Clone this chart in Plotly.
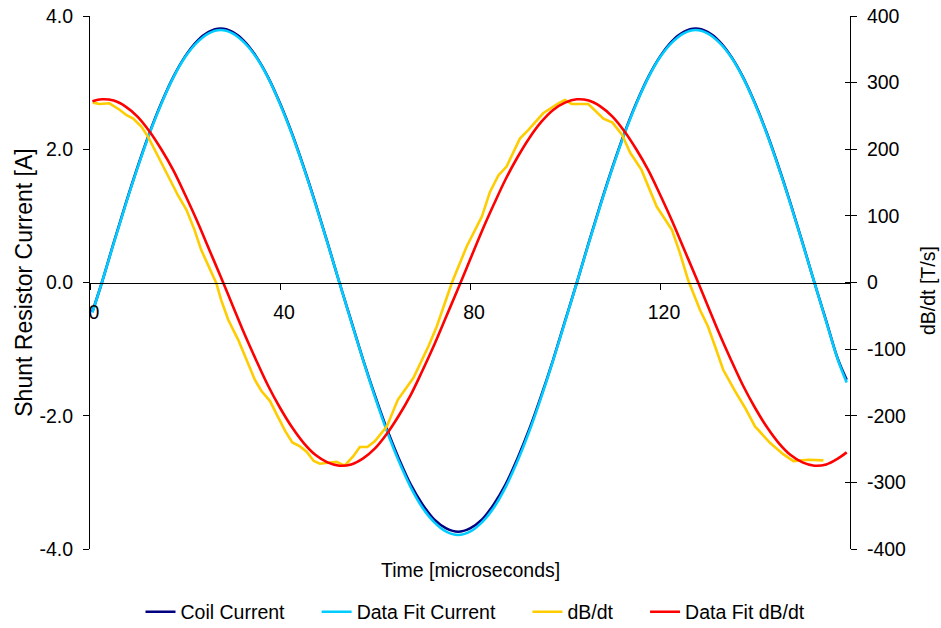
import plotly.graph_objects as go

# ---- data ----
t_grid = [0.5, 2.5, 5.0, 7.5, 10.0, 12.5, 15.0, 17.5, 20.0, 22.5, 25.0, 27.5, 30.0, 32.5,
          35.0, 37.5, 40.0, 42.5, 45.0, 47.5, 50.0, 52.5, 55.0, 57.5, 60.0, 62.5, 65.0,
          67.5, 70.0, 72.5, 75.0, 77.5, 80.0, 82.5, 85.0, 87.5, 90.0, 92.5, 95.0, 97.5,
          100.0, 102.5, 105.0, 107.5, 110.0, 112.5, 115.0, 117.5, 120.0, 122.5, 125.0,
          127.5, 130.0, 132.5, 135.0, 137.5, 140.0, 142.5, 145.0, 147.5, 150.0, 152.5,
          155.0, 157.5, 159.3]

coil_current = [-0.44, 0.00, 0.60, 1.18, 1.73, 2.24, 2.69, 3.08, 3.39, 3.62, 3.76, 3.81, 3.76,
                3.62, 3.39, 3.08, 2.69, 2.24, 1.73, 1.18, 0.60, 0.00, -0.58, -1.16, -1.70,
                -2.20, -2.64, -3.03, -3.33, -3.56, -3.69, -3.74, -3.69, -3.56, -3.33, -3.03,
                -2.64, -2.20, -1.70, -1.16, -0.58, 0.00, 0.60, 1.18, 1.73, 2.24, 2.69, 3.08,
                3.39, 3.62, 3.76, 3.81, 3.76, 3.62, 3.39, 3.08, 2.69, 2.24, 1.73, 1.18, 0.60,
                0.00, -0.58, -1.16, -1.46]

fit_current = [-0.45, 0.00, 0.59, 1.17, 1.72, 2.23, 2.68, 3.07, 3.38, 3.60, 3.74, 3.79, 3.74,
               3.60, 3.38, 3.07, 2.68, 2.23, 1.72, 1.17, 0.59, 0.00, -0.59, -1.17, -1.72,
               -2.23, -2.68, -3.07, -3.38, -3.60, -3.74, -3.79, -3.74, -3.60, -3.38, -3.07,
               -2.68, -2.23, -1.72, -1.17, -0.59, 0.00, 0.59, 1.17, 1.72, 2.23, 2.68, 3.07,
               3.38, 3.60, 3.74, 3.79, 3.74, 3.60, 3.38, 3.07, 2.68, 2.23, 1.72, 1.17, 0.59,
               0.00, -0.59, -1.17, -1.50]

fit_dbdt = [272, 275, 273, 264, 249, 227, 200, 169, 132, 93, 51, 9, -34, -77, -117, -155,
            -188, -217, -241, -259, -270, -275, -273, -264, -249, -227, -200, -169, -132,
            -93, -51, -9, 34, 77, 117, 155, 188, 217, 241, 259, 270, 275, 273, 264, 249,
            227, 200, 169, 132, 93, 51, 9, -34, -77, -117, -155, -188, -217, -241, -259,
            -270, -275, -273, -264, -255]

dbdt_t = [0.6, 2.0, 4.1, 6.3, 7.7, 9.1, 10.8, 12.2, 14.0, 16.4, 18.5, 20.3, 22.0, 23.4,
          25.2, 26.6, 27.6, 29.1, 31.2, 33.0, 34.7, 36.1, 37.9, 39.3, 41.1, 42.6, 44.2,
          45.6, 47.1, 48.4, 50.2, 51.9, 53.6, 55.4, 56.8, 58.4, 60.0, 62.5, 64.8, 68.1,
          71.3, 73.0, 76.2, 79.3, 82.5, 84.2, 86.0, 87.7, 90.5, 92.3, 95.4, 98.6, 100.0,
          101.4, 104.9, 108.1, 110.0, 112.0, 113.7, 116.1, 119.3, 122.5, 124.2, 125.9,
          128.4, 130.1, 131.6, 133.3, 135.8, 137.9, 140.0, 143.2, 146.0, 148.1, 151.2, 154.4]

dbdt_val = [270, 268, 269, 259, 251, 246, 234, 219, 194, 161, 131, 109, 79, 49, 21, -1, -26,
            -56, -86, -116, -146, -163, -178, -198, -223, -240, -246, -254, -268, -272,
            -270, -269, -275, -261, -247, -247, -238, -216, -176, -143, -95, -66, 0, 54,
            99, 136, 161, 174, 216, 229, 254, 269, 274, 268, 268, 246, 240, 222, 195, 169,
            114, 79, 44, 4, -41, -66, -96, -131, -163, -188, -216, -241, -258, -268, -266,
            -267]

x_ticks = [0, 40, 80, 120]
y_ticks = [-4, -2, 0, 2, 4]
y_ticktext = ["-4.0", "-2.0", "0.0", "2.0", "4.0"]
y2_ticks = [-400, -300, -200, -100, 0, 100, 200, 300, 400]
y2_ticktext = ["-400", "-300", "-200", "-100", "0", "100", "200", "300", "400"]

names = ["Coil Current", "Data Fit Current", "dB/dt", "Data Fit dB/dt"]
pad = "\u00a0" * 5

FONT = "Liberation Sans, Arial, sans-serif"
FS = 19.5

fig = go.Figure()
fig.add_trace(go.Scatter(x=t_grid, y=coil_current, mode="lines", name=names[0] + pad,
                         line=dict(color="#000080", width=2.6, shape="spline")))
fig.add_trace(go.Scatter(x=t_grid, y=fit_current, mode="lines", name=names[1] + pad,
                         line=dict(color="#00CCFF", width=2.6, shape="spline")))
fig.add_trace(go.Scatter(x=dbdt_t, y=dbdt_val, mode="lines", name=names[2] + pad,
                         yaxis="y2", line=dict(color="#FFCC00", width=2.6)))
fig.add_trace(go.Scatter(x=t_grid, y=fit_dbdt, mode="lines", name=names[3],
                         yaxis="y2", line=dict(color="#FF0000", width=2.6, shape="spline")))
# carrier for the inward half of the crossing ticks on the right axis
fig.add_trace(go.Scatter(x=[], y=[], mode="lines", yaxis="y3", showlegend=False,
                         hoverinfo="skip"))

fig.update_layout(
    width=941, height=628,
    margin=dict(l=90, r=91, t=16, b=79, autoexpand=False),
    paper_bgcolor="white", plot_bgcolor="white",
    font=dict(family=FONT, size=FS, color="black"),
    showlegend=True,
    legend=dict(orientation="h", x=(475.5 - 90) / 760, xanchor="center", yref="container",
                y=1 - 612 / 628, yanchor="middle",
                font=dict(size=FS), bgcolor="rgba(0,0,0,0)"),
    xaxis=dict(range=[0, 160], anchor="free", position=0.5, showline=True,
               linecolor="black", linewidth=1, ticks="outside", ticklen=6,
               tickcolor="black", tickvals=x_ticks, showgrid=False, zeroline=False,
               ticklabelshift=4, ticklabelstandoff=6, automargin=False),
    yaxis=dict(range=[-4, 4], showline=True, linecolor="black", linewidth=1,
               ticks="outside", ticklen=6, tickcolor="black", tickvals=y_ticks,
               ticktext=y_ticktext, showgrid=False, zeroline=False, automargin=False,
               title=dict(text="Shunt Resistor Current [A]", standoff=0),
               ticklabelstandoff=6),
    yaxis2=dict(range=[-400, 400], overlaying="y", side="right", showline=True,
                linecolor="black", linewidth=1, ticks="outside", ticklen=6,
                tickcolor="black", tickvals=y2_ticks, ticktext=y2_ticktext,
                showgrid=False, zeroline=False, automargin=False,
                ticklabelstandoff=6),
    yaxis3=dict(range=[-400, 400], overlaying="y", side="right", showline=False,
                ticks="inside", ticklen=5, tickcolor="black", tickvals=y2_ticks,
                showticklabels=False, showgrid=False, zeroline=False, automargin=False),
    annotations=[
        dict(text="Time [microseconds]", xref="paper", yref="paper",
             x=0.5, y=-21 / 533, xanchor="center", yanchor="middle",
             showarrow=False, font=dict(size=FS)),
        dict(text="dB/dt [T/s]", xref="paper", yref="paper", textangle=-90,
             x=(928 - 90) / 760, y=(549 - 291) / 533, xanchor="center",
             yanchor="middle", showarrow=False, font=dict(size=FS)),
    ],
)

fig.write_html("out.html")
